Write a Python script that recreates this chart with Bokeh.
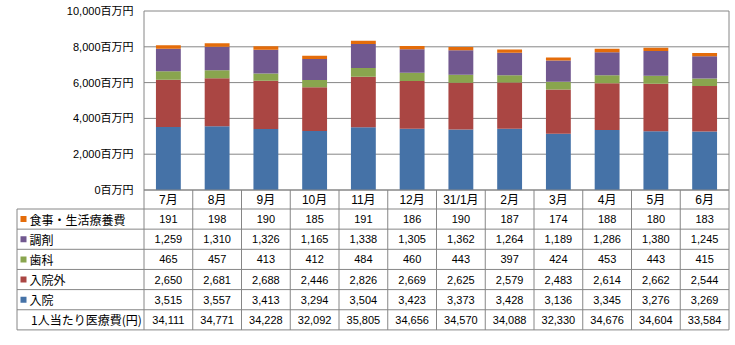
from bokeh.plotting import figure
from bokeh.models import Range1d, ColumnDataSource
from bokeh.core.properties import value
from bokeh.embed import file_html
from bokeh.resources import INLINE

# ---- data (百万円) ----
months = ["7月", "8月", "9月", "10月", "11月", "12月", "31/1月", "2月", "3月", "4月", "5月", "6月"]
inpatient = [3515, 3557, 3413, 3294, 3504, 3423, 3373, 3428, 3136, 3345, 3276, 3269]
outpatient = [2650, 2681, 2688, 2446, 2826, 2669, 2625, 2579, 2483, 2614, 2662, 2544]
dental = [465, 457, 413, 412, 484, 460, 443, 397, 424, 453, 443, 415]
pharmacy = [1259, 1310, 1326, 1165, 1338, 1305, 1362, 1264, 1189, 1286, 1380, 1245]
meals = [191, 198, 190, 185, 191, 186, 190, 187, 174, 188, 180, 183]
per_capita = [34111, 34771, 34228, 32092, 35805, 34656, 34570, 34088, 32330, 34676, 34604, 33584]
y_ticks = [0, 2000, 4000, 6000, 8000, 10000]
y_tick_labels = [f"{t:,}百万円" for t in y_ticks]
series_names = ["入院", "入院外", "歯科", "調剤", "食事・生活療養費"]
colors = ["#4572A7", "#AA4643", "#89A54E", "#71588F", "#E46C0A"]

# ---- layout (pixels) ----
WIDTH, HEIGHT = 735, 345
PX0, PX1 = 143.5, 728.5          # plot area left/right
PY_TOP, PY0 = 10.5, 189.5        # plot area top (10000) / bottom (0)
YMAX = 10000
n = len(months)
col_w = (PX1 - PX0) / n
s = (PY0 - PY_TOP) / YMAX       # px per unit
TBL_LEFT = 16.5
HDR_BOTTOM = 208.5
ROW_H = 20.15
GRID = "#868686"
NUM_FONT = value("Liberation Sans, Noto Sans CJK JP")
JP_FONT = value("Noto Sans CJK JP")

p = figure(width=WIDTH, height=HEIGHT,
           x_range=Range1d(-PX0 / col_w, n + (WIDTH - PX1) / col_w),
           y_range=Range1d(-(HEIGHT - PY0) / s, YMAX + PY_TOP / s),
           x_axis_type=None, y_axis_type=None,
           toolbar_location=None, output_backend="svg",
           min_border=0, min_border_left=0, min_border_right=0,
           min_border_top=0, min_border_bottom=0)
p.outline_line_color = None
p.background_fill_color = "white"
p.border_fill_color = "white"
p.extra_x_ranges = {"px": Range1d(0, WIDTH)}
p.extra_y_ranges = {"px": Range1d(HEIGHT, 0)}

# gridlines
p.segment(x0=[0] * len(y_ticks), x1=[n] * len(y_ticks), y0=y_ticks, y1=y_ticks,
          line_color=GRID, line_width=1)

# stacked bars
keys = ["s0", "s1", "s2", "s3", "s4"]
src = ColumnDataSource(dict(x=[i + 0.5 for i in range(n)],
                            s0=inpatient, s1=outpatient, s2=dental, s3=pharmacy, s4=meals))
p.vbar_stack(keys, x="x", width=0.51, color=colors, line_color=None, source=src)

# y tick labels
p.text(x=[133] * len(y_ticks), y=y_ticks, text=y_tick_labels, x_range_name="px",
       text_align="right", text_baseline="middle", text_font=NUM_FONT,
       text_font_size="11px", text_color="#000000")

# table structure
n_rows = 6
table_bottom = HDR_BOTTOM + n_rows * ROW_H
vx = [PX0 + k * col_w for k in range(n + 1)]
x0s, x1s, y0s, y1s = [], [], [], []
for k, xv in enumerate(vx):
    x0s.append(xv); x1s.append(xv)
    y0s.append(PY_TOP if k in (0, n) else PY0); y1s.append(table_bottom)
x0s.append(TBL_LEFT); x1s.append(TBL_LEFT); y0s.append(HDR_BOTTOM); y1s.append(table_bottom)
for j in range(n_rows + 1):
    yv = HDR_BOTTOM + j * ROW_H
    x0s.append(TBL_LEFT); x1s.append(PX1); y0s.append(yv); y1s.append(yv)
x0s.append(PX0); x1s.append(PX1); y0s.append(PY0); y1s.append(PY0)
p.segment(x0=x0s, x1=x1s, y0=y0s, y1=y1s, x_range_name="px", y_range_name="px",
          line_color=GRID, line_width=1)

# month labels
xc = [i + 0.5 for i in range(n)]
p.text(x=xc, y=[(PY0 + HDR_BOTTOM) / 2] * n, text=months, y_range_name="px",
       text_align="center", text_baseline="middle", text_font=NUM_FONT,
       text_font_size="12px", text_color="#000000")

# table rows
rows = [meals, pharmacy, dental, outpatient, inpatient, per_capita]
row_labels = [series_names[4], series_names[3], series_names[2], series_names[1], series_names[0],
              "1人当たり医療費(円)"]
row_colors = [colors[4], colors[3], colors[2], colors[1], colors[0], None]
for j, (vals, lab, col) in enumerate(zip(rows, row_labels, row_colors)):
    yc = HDR_BOTTOM + (j + 0.5) * ROW_H
    p.text(x=xc, y=[yc] * n, text=[f"{v:,}" for v in vals], y_range_name="px",
           text_align="center", text_baseline="middle", text_font=NUM_FONT,
           text_font_size="11px", text_color="#000000")
    if col is not None:
        p.rect(x=[23], y=[yc], width=6, height=6, x_range_name="px", y_range_name="px",
               fill_color=col, line_color=None)
        p.text(x=[29], y=[yc], text=[lab], x_range_name="px", y_range_name="px",
               text_align="left", text_baseline="middle", text_font=JP_FONT,
               text_font_size="12px", text_color="#000000")
    else:
        p.text(x=[30.5], y=[yc], text=[lab], x_range_name="px", y_range_name="px",
               text_align="left", text_baseline="middle", text_font=JP_FONT,
               text_font_size="12px", text_color="#000000")

open("out.html", "w").write(file_html(p, INLINE))
